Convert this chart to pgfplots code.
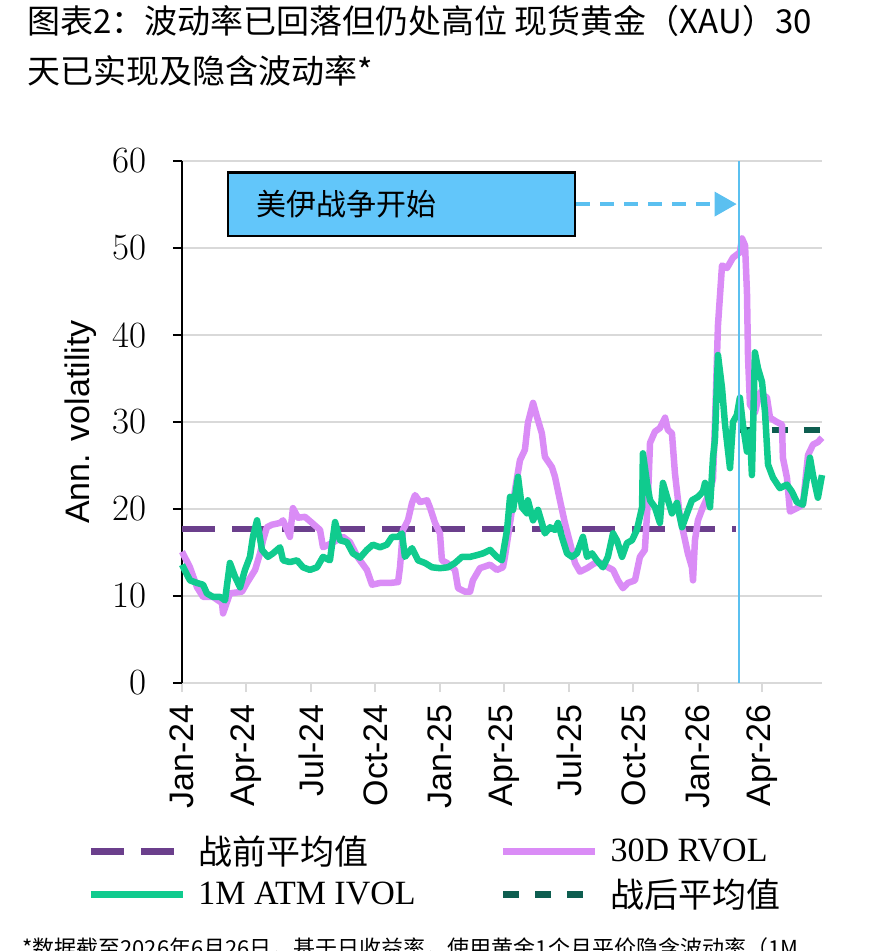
\documentclass[border=0pt]{standalone}
\usepackage{fontspec}
\setmainfont{Liberation Serif}
\setsansfont{Liberation Sans}
\newfontfamily\cjk{Noto Sans CJK SC}
\newfontfamily\lmr{Latin Modern Roman}
\usepackage{pgfplots}
\pgfplotsset{compat=1.18}
\usetikzlibrary{arrows.meta}
\definecolor{rvol}{HTML}{DA8CF6}
\definecolor{ivol}{HTML}{10CB8E}
\definecolor{pre}{HTML}{6B3F8C}
\definecolor{post}{HTML}{0E5E50}
\definecolor{evblue}{HTML}{5BC0F0}
\definecolor{boxblue}{HTML}{62C6FA}
\definecolor{gridgray}{HTML}{D9D9D9}
\begin{document}
\begin{tikzpicture}
\useasboundingbox (0pt,0pt) rectangle (871pt,-951pt);
\node[anchor=north west, inner sep=0pt, align=left, font=\cjk\fontsize{33}{50}\selectfont] at (27pt,-5pt)
 {图表2：波动率已回落但仍处高位 现货黄金（XAU）30\\天已实现及隐含波动率*};
\node[anchor=north west, inner sep=0pt, align=left, font=\cjk\fontsize{22}{30}\selectfont] at (22pt,-937pt)
 {*数据截至2026年6月26日，基于日收益率，使用黄金1个月平价隐含波动率（1M\\ATM IVOL）};
\begin{axis}[
  at={(182pt,-683pt)}, anchor=south west,
  scale only axis, width=640pt, height=522pt,
  xmin=0, xmax=29.77, ymin=0, ymax=60,
  axis lines*=left,
  x axis line style={draw=gridgray, line width=2pt},
  y axis line style={draw=black, line width=2.6pt},
  xtick={0,3,6,9,12,15,18,21,24,27},
  xticklabels={Jan-24,Apr-24,Jul-24,Oct-24,Jan-25,Apr-25,Jul-25,Oct-25,Jan-26,Apr-26},
  ytick={0,10,20,30,40,50,60},
  tick align=outside, major tick length=9pt,
  xtick style={draw=gridgray, line width=2pt},
  ytick style={draw=black, line width=2.6pt},
  ymajorgrids, grid style={draw=gridgray, line width=2pt},
  /pgf/number format/assume math mode=true,
  xticklabel style={font=\sffamily\fontsize{34}{34}\selectfont, rotate=90, anchor=east, inner sep=0pt, xshift=-12pt},
  yticklabel style={font=\lmr\fontsize{37}{37}\selectfont, inner sep=0pt, xshift=-26pt},
  ylabel={Ann. volatility},
  every axis y label/.style={at={(axis description cs:-0.159,0.5)}, rotate=90, anchor=center,
    font=\sffamily\fontsize{34}{34}\selectfont},
  clip=false,
  legend columns=2,
  legend cell align=left,
  legend image code/.code={\draw[#1] (0pt,0pt) -- (92pt,0pt);},
  legend style={at={(axis description cs:-0.148,-0.292)}, anchor=north west, draw=none, fill=none,
    inner sep=0pt, row sep=13pt,
    nodes={inner sep=0pt, anchor=west, text depth=0.2em},
    /tikz/every odd column/.append style={column sep=12pt},
    /tikz/every even column/.append style={column sep=84pt},
    font=\fontsize{34}{36}\selectfont},
]
\addlegendimage{pre, line width=7pt, dash pattern=on 33pt off 17pt}
\addlegendentry{\cjk 战前平均值}
\addlegendimage{rvol, line width=7pt}
\addlegendentry{30D RVOL}
\addlegendimage{ivol, line width=7pt}
\addlegendentry{1M ATM IVOL}
\addlegendimage{post, line width=7pt, dash pattern=on 16pt off 16pt}
\addlegendentry{\cjk 战后平均值}

% pre-war average
\addplot[forget plot, pre, line width=6.5pt, dash pattern=on 33pt off 17pt] coordinates {(0,17.7) (25.75,17.7)};
% post-war average
\addplot[forget plot, post, line width=6.5pt, dash pattern=on 16pt off 16pt] coordinates {(25.95,29.1) (29.77,29.1)};

% 30D realised vol
\addplot[forget plot, rvol, line width=6.5pt, line join=round] table {
0.00 15.1
0.37 13.3
0.70 11.0
0.98 9.9
1.44 9.9
1.86 9.2
1.91 8.0
2.23 10.3
2.79 10.5
3.02 11.5
3.40 13.0
3.63 14.9
3.77 16.4
3.95 17.9
4.19 18.2
4.56 18.4
4.70 18.7
5.02 16.8
5.16 20.1
5.40 19.0
5.72 19.1
6.05 18.4
6.28 17.9
6.42 17.6
6.56 15.6
6.98 16.1
7.49 16.8
7.81 16.2
8.19 14.4
8.60 13.0
8.84 11.3
9.21 11.5
9.67 11.5
10.05 11.6
10.14 13.3
10.28 17.6
10.51 18.7
10.70 20.7
10.84 21.6
11.07 20.8
11.40 21.0
11.53 20.2
11.77 18.4
12.00 17.2
12.09 14.1
12.33 13.8
12.70 13.0
12.84 10.9
13.16 10.5
13.40 10.5
13.53 11.8
13.86 13.2
14.33 13.6
14.65 13.0
14.93 13.3
15.02 14.5
15.26 18.4
15.49 22.2
15.72 25.6
15.95 26.8
16.09 29.9
16.33 32.2
16.51 30.6
16.74 28.7
16.88 26.0
17.21 24.8
17.35 23.7
17.58 21.0
17.81 18.4
18.05 16.1
18.28 13.8
18.51 12.8
18.84 13.2
19.21 13.8
19.53 13.8
19.81 13.3
20.05 13.0
20.28 11.8
20.51 10.9
20.74 11.5
21.07 11.8
21.30 14.5
21.53 15.3
21.67 21.0
21.77 27.6
22.00 28.9
22.23 29.3
22.47 30.5
22.60 29.1
22.79 28.7
22.93 24.1
23.16 19.1
23.40 16.4
23.53 14.9
23.72 13.3
23.77 11.8
23.86 16.4
24.00 18.7
24.23 20.2
24.56 22.0
24.70 23.5
24.79 29.7
24.93 41.1
25.12 48.0
25.35 47.7
25.63 48.9
25.95 49.5
26.05 51.1
26.19 50.3
26.28 44.9
26.33 37.4
26.42 32.0
26.65 31.1
26.88 33.4
27.21 32.8
27.35 30.5
27.67 30.0
27.91 29.7
27.95 25.9
28.14 23.6
28.28 19.7
28.60 20.1
28.88 20.5
29.12 26.2
29.35 27.4
29.58 27.7
29.77 28.2
};

% 1M ATM implied vol
\addplot[forget plot, ivol, line width=6.5pt, line join=round] table {
0.00 13.6
0.37 11.8
0.70 11.5
0.98 11.3
1.16 10.3
1.44 9.9
1.77 9.9
2.00 9.5
2.23 13.8
2.47 12.2
2.70 11.0
2.93 13.0
3.16 14.5
3.30 16.8
3.49 18.7
3.72 15.3
4.00 14.5
4.23 14.9
4.56 15.6
4.70 14.1
5.02 13.9
5.35 14.1
5.63 13.3
5.95 13.0
6.28 13.3
6.56 14.5
6.88 14.1
7.12 18.5
7.35 16.4
7.67 16.2
7.95 14.9
8.28 14.4
8.60 15.3
8.88 15.9
9.21 15.6
9.53 15.9
9.77 16.8
10.05 16.8
10.23 17.2
10.37 14.5
10.70 15.5
10.98 14.1
11.30 13.8
11.63 13.3
12.00 13.2
12.37 13.3
12.70 13.8
13.02 14.5
13.40 14.5
13.72 14.7
14.00 14.9
14.33 15.3
14.65 14.5
14.88 14.1
15.12 17.6
15.26 21.4
15.40 19.9
15.63 23.7
15.81 20.2
16.05 19.5
16.09 21.0
16.33 18.7
16.56 19.9
16.74 18.4
16.88 17.2
17.12 17.9
17.35 17.6
17.49 18.4
17.67 16.8
17.91 14.9
18.14 14.5
18.37 14.9
18.65 16.8
18.84 14.5
19.07 14.9
19.30 14.1
19.58 13.3
19.81 14.5
20.05 17.2
20.23 16.4
20.47 14.5
20.70 16.1
20.93 16.4
21.16 17.6
21.40 20.2
21.44 26.4
21.63 23.0
21.77 21.0
22.00 20.2
22.23 18.4
22.37 23.0
22.56 21.4
22.79 19.5
23.02 20.7
23.26 17.9
23.49 19.5
23.72 21.0
24.00 21.4
24.23 22.0
24.33 23.0
24.47 21.3
24.56 20.2
24.70 25.9
24.79 28.0
24.93 37.7
25.12 33.9
25.26 29.7
25.49 24.7
25.63 30.0
25.81 30.8
25.95 32.8
26.09 29.7
26.28 26.6
26.42 28.9
26.51 23.9
26.65 38.0
26.79 36.2
26.98 34.6
27.12 31.1
27.26 25.1
27.49 23.6
27.81 22.4
28.14 22.8
28.37 22.0
28.60 20.8
28.88 20.5
29.21 25.9
29.35 23.9
29.58 21.3
29.77 23.9
};

% war start marker
\addplot[forget plot, evblue, line width=2.5pt] coordinates {(25.9,0) (25.9,60)};
\draw[black, line width=2.5pt, fill=boxblue] (axis cs:2.14,51.4) rectangle (axis cs:18.28,58.7);
\node[anchor=west, font=\cjk\fontsize{30}{30}\selectfont, inner sep=0pt] at (axis cs:3.45,55.1) {美伊战争开始};
\draw[evblue, line width=3.5pt, dash pattern=on 14pt off 10pt, -{Triangle[length=22pt,width=24pt]}] (axis cs:18.35,55.05) -- (axis cs:25.8,55.05);
\end{axis}
\end{tikzpicture}
\end{document}
